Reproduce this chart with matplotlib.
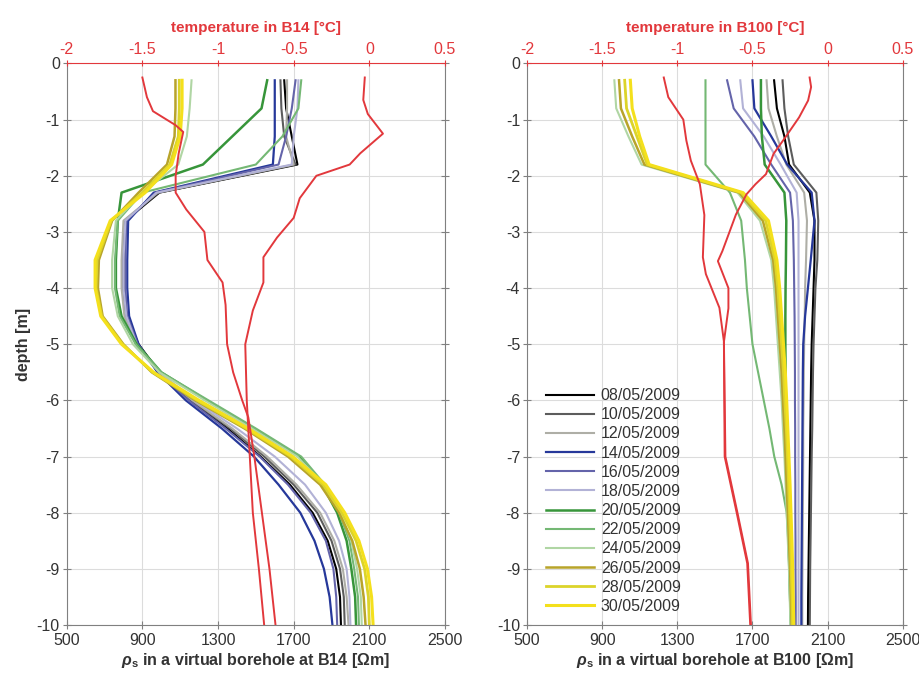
import numpy as np
import matplotlib
matplotlib.use("Agg")
import matplotlib.pyplot as plt

plt.rcParams['font.family'] = ['Liberation Sans', 'DejaVu Sans']
plt.rcParams['axes.unicode_minus'] = False
plt.rcParams['mathtext.fontset'] = 'custom'
plt.rcParams['mathtext.rm'] = 'Liberation Sans:bold'
plt.rcParams['mathtext.it'] = 'Liberation Sans:italic:bold'
plt.rcParams['mathtext.bf'] = 'Liberation Sans:bold'

# depth levels of the resistivity profiles [m]
depth = [-0.3, -0.8, -1.3, -1.8, -2.3, -2.8, -3.5, -4.0, -4.5, -5.0,
         -5.5, -6.0, -6.5, -7.0, -7.5, -8.0, -8.5, -9.0, -9.5, -10.0]

dates = ['08/05/2009', '10/05/2009', '12/05/2009', '14/05/2009',
         '16/05/2009', '18/05/2009', '20/05/2009', '22/05/2009',
         '24/05/2009', '26/05/2009', '28/05/2009', '30/05/2009']

# apparent resistivity at B14 [Ohm m], one row per date
rho_b14_0805 = [1650, 1660, 1690, 1720, 990, 810, 800, 800, 815, 880, 990, 1150, 1350, 1525, 1680, 1800, 1880, 1925, 1945, 1950]
rho_b14_1005 = [1630, 1635, 1650, 1710, 985, 805, 795, 795, 810, 870, 985, 1160, 1365, 1545, 1700, 1825, 1900, 1945, 1965, 1970]
rho_b14_1205 = [1665, 1665, 1660, 1700, 980, 800, 790, 790, 805, 865, 985, 1165, 1375, 1560, 1715, 1840, 1915, 1960, 1980, 1990]
rho_b14_1405 = [1600, 1600, 1600, 1590, 960, 825, 820, 820, 830, 880, 980, 1130, 1320, 1490, 1620, 1735, 1810, 1860, 1890, 1905]
rho_b14_1605 = [1710, 1690, 1660, 1620, 970, 815, 810, 810, 820, 875, 985, 1145, 1340, 1520, 1670, 1790, 1870, 1910, 1925, 1930]
rho_b14_1805 = [1725, 1720, 1700, 1690, 975, 810, 800, 800, 815, 870, 990, 1175, 1400, 1600, 1760, 1870, 1940, 1980, 1995, 2000]
rho_b14_2005 = [1560, 1530, 1375, 1220, 790, 770, 760, 760, 790, 870, 1000, 1240, 1490, 1730, 1850, 1930, 1980, 2005, 2025, 2030]
rho_b14_2205 = [1740, 1725, 1640, 1500, 900, 770, 755, 755, 780, 865, 1000, 1250, 1500, 1740, 1865, 1940, 1995, 2020, 2040, 2045]
rho_b14_2405 = [1160, 1150, 1135, 1090, 900, 760, 740, 740, 770, 850, 990, 1230, 1480, 1720, 1860, 1945, 2005, 2035, 2055, 2060]
rho_b14_2605 = [1075, 1075, 1070, 1030, 880, 740, 670, 665, 690, 800, 950, 1180, 1440, 1670, 1840, 1940, 2010, 2050, 2070, 2080]
rho_b14_2805 = [1095, 1095, 1090, 1045, 900, 735, 660, 655, 685, 795, 955, 1190, 1450, 1685, 1855, 1955, 2030, 2075, 2095, 2100]
rho_b14_3005 = [1110, 1110, 1100, 1055, 915, 730, 650, 650, 680, 790, 960, 1200, 1460, 1695, 1870, 1970, 2045, 2090, 2112, 2120]

# apparent resistivity at B100 [Ohm m]
rho_b100_0805 = [1815, 1830, 1870, 1895, 2005, 2030, 2030, 2025, 2020, 2015, 2012, 2010, 2008, 2006, 2004, 2002, 2000, 1998, 1996, 1995]
rho_b100_1005 = [1860, 1870, 1890, 1920, 2040, 2050, 2045, 2035, 2030, 2025, 2022, 2020, 2018, 2015, 2013, 2011, 2009, 2007, 2006, 2005]
rho_b100_1205 = [1775, 1785, 1830, 1880, 1975, 1990, 1985, 1980, 1978, 1975, 1973, 1972, 1970, 1970, 1969, 1968, 1967, 1966, 1965, 1965]
rho_b100_1405 = [1700, 1710, 1800, 1885, 2015, 2030, 2010, 1995, 1980, 1970, 1968, 1967, 1966, 1965, 1964, 1963, 1962, 1961, 1960, 1960]
rho_b100_1605 = [1565, 1600, 1710, 1800, 1900, 1915, 1920, 1922, 1924, 1925, 1926, 1926, 1927, 1927, 1928, 1928, 1929, 1929, 1930, 1930]
rho_b100_1805 = [1635, 1650, 1760, 1850, 1935, 1945, 1945, 1945, 1945, 1945, 1945, 1945, 1945, 1945, 1945, 1945, 1945, 1945, 1945, 1945]
rho_b100_2005 = [1745, 1745, 1750, 1765, 1870, 1880, 1878, 1876, 1875, 1875, 1876, 1878, 1880, 1882, 1885, 1888, 1892, 1896, 1900, 1905]
rho_b100_2205 = [1450, 1450, 1450, 1450, 1580, 1640, 1660, 1670, 1685, 1700, 1730, 1760, 1790, 1816, 1855, 1882, 1890, 1896, 1900, 1904]
rho_b100_2405 = [965, 975, 1040, 1110, 1620, 1740, 1800, 1815, 1825, 1835, 1845, 1855, 1862, 1870, 1876, 1882, 1888, 1894, 1898, 1902]
rho_b100_2605 = [990, 1000, 1060, 1125, 1630, 1755, 1810, 1825, 1835, 1845, 1855, 1862, 1870, 1876, 1882, 1888, 1894, 1900, 1904, 1908]
rho_b100_2805 = [1020, 1030, 1085, 1140, 1640, 1770, 1820, 1835, 1845, 1855, 1865, 1872, 1880, 1886, 1892, 1897, 1902, 1906, 1910, 1912]
rho_b100_3005 = [1050, 1060, 1100, 1150, 1650, 1785, 1830, 1845, 1855, 1865, 1875, 1882, 1888, 1894, 1900, 1905, 1910, 1914, 1917, 1920]

# temperature profiles [degC]
temp_b14_a_depth = [-0.25, -0.6, -0.85, -1.1, -1.22, -1.6, -2.0, -2.3, -2.6, -3.0, -3.5, -3.9, -4.3, -5.0, -5.5, -6.0, -6.3, -7.0, -8.0, -9.0, -10.0]
temp_b14_a = [-1.50, -1.47, -1.43, -1.28, -1.23, -1.26, -1.28, -1.28, -1.21, -1.09, -1.07, -0.97, -0.95, -0.94, -0.90, -0.84, -0.80, -0.76, -0.71, -0.66, -0.62]
temp_b14_b_depth = [-0.25, -0.65, -0.9, -1.25, -1.6, -1.8, -2.0, -2.4, -2.75, -3.1, -3.45, -3.9, -4.4, -5.0, -6.0, -7.0, -8.0, -9.0, -10.0]
temp_b14_b = [-0.03, -0.04, -0.01, 0.09, -0.06, -0.13, -0.35, -0.46, -0.50, -0.61, -0.70, -0.70, -0.77, -0.82, -0.81, -0.79, -0.77, -0.73, -0.695]

temp_b100_a_depth = [-0.25, -0.6, -1.0, -1.37, -1.73, -2.15, -2.7, -3.45, -3.75, -4.35, -4.95, -7.0, -8.0, -8.9, -10.0]
temp_b100_a = [-1.09, -1.06, -0.96, -0.94, -0.91, -0.85, -0.82, -0.83, -0.81, -0.72, -0.69, -0.68, -0.60, -0.53, -0.51]
temp_b100_b_depth = [-0.25, -0.42, -0.66, -0.96, -1.31, -1.61, -1.97, -2.15, -2.33, -2.69, -3.34, -3.52, -4.0, -4.36, -4.96, -7.0, -8.0, -8.9, -10.0]
temp_b100_b = [-0.12, -0.11, -0.13, -0.19, -0.28, -0.36, -0.41, -0.48, -0.54, -0.61, -0.70, -0.73, -0.66, -0.66, -0.69, -0.685, -0.605, -0.535, -0.515]

rho_ticks = [500, 900, 1300, 1700, 2100, 2500]
temp_ticks = [-2, -1.5, -1, -0.5, 0, 0.5]
temp_tick_labels = ['-2', '-1.5', '-1', '-0.5', '0', '0.5']
depth_ticks = [0, -1, -2, -3, -4, -5, -6, -7, -8, -9, -10]

colors = ['#000000', '#5c5c5c', '#aeaea6', '#26389a', '#6464aa', '#b2b2d6',
          '#37953a', '#74b874', '#b0d6a4', '#b8a42a', '#dcd42a', '#f4e01c']
widths = [1.5, 1.5, 1.5, 1.6, 1.5, 1.5, 1.8, 1.5, 1.5, 1.8, 2.0, 2.2]
RED = '#e2383c'
AXC = '#808080'
TXT = '#333333'

rho_b14 = [rho_b14_0805, rho_b14_1005, rho_b14_1205, rho_b14_1405, rho_b14_1605, rho_b14_1805,
           rho_b14_2005, rho_b14_2205, rho_b14_2405, rho_b14_2605, rho_b14_2805, rho_b14_3005]
rho_b100 = [rho_b100_0805, rho_b100_1005, rho_b100_1205, rho_b100_1405, rho_b100_1605, rho_b100_1805,
            rho_b100_2005, rho_b100_2205, rho_b100_2405, rho_b100_2605, rho_b100_2805, rho_b100_3005]


def draw_panel(ax, profiles, temps, name):
    """one borehole: resistivity (bottom axis) + temperature (top axis)"""
    lines = []
    for prof, c, w, lab in zip(profiles, colors, widths, dates):
        ln, = ax.plot(prof, depth, color=c, lw=w, label=lab, solid_joinstyle='round')
        lines.append(ln)
    ax.set_xlim(500, 2500)
    ax.set_ylim(-10, 0)
    ax.set_xticks(rho_ticks)
    ax.set_yticks(depth_ticks)
    ax.grid(True, color='#dcdcdc', lw=0.8)
    ax.set_axisbelow(True)
    ax.tick_params(axis='both', labelsize=11.5, colors=AXC, labelcolor=TXT,
                   direction='inout', length=6, width=0.8)
    ax.tick_params(axis='y', right=True, pad=2)
    ax.tick_params(axis='x', pad=3)
    for s in ['left', 'right', 'bottom']:
        ax.spines[s].set_color(AXC)
    ax.spines['top'].set_visible(False)
    ax.set_xlabel(r'$\rho_\mathrm{s}$ in a virtual borehole at ' + name + ' [Ωm]',
                  fontsize=11.5, fontweight='bold', color=TXT, labelpad=2)

    tw = ax.twiny()
    for d, t in temps:
        tw.plot(t, d, color=RED, lw=1.4)
    tw.set_xlim(-2, 0.5)
    tw.set_xticks(temp_ticks)
    tw.set_xticklabels(temp_tick_labels)
    tw.tick_params(axis='x', labelsize=11.5, colors=RED, direction='inout', length=5, pad=2)
    for s in ['left', 'right', 'bottom']:
        tw.spines[s].set_visible(False)
    tw.spines['top'].set_color(RED)
    tw.set_xlabel('temperature in ' + name + ' [°C]', color=RED, fontsize=11,
                  fontweight='bold', labelpad=7)
    return lines


fig = plt.figure(figsize=(9.19, 6.75), dpi=100)
ax1 = fig.add_axes([0.0726, 0.074, 0.4116, 0.832])
ax2 = fig.add_axes([0.5734, 0.074, 0.409, 0.832])

draw_panel(ax1, rho_b14, [(temp_b14_a_depth, temp_b14_a), (temp_b14_b_depth, temp_b14_b)], 'B14')
lines = draw_panel(ax2, rho_b100, [(temp_b100_a_depth, temp_b100_a), (temp_b100_b_depth, temp_b100_b)], 'B100')

ax1.set_ylabel('depth [m]', fontsize=11.5, fontweight='bold', color=TXT, labelpad=4)

leg = ax2.legend(handles=lines, loc='lower left', bbox_to_anchor=(0.02, 0.0),
                 frameon=False, fontsize=11.5, handlelength=3.0, handletextpad=0.45,
                 labelspacing=0.26, borderaxespad=0.3)
for t in leg.get_texts():
    t.set_color(TXT)

fig.savefig('out.png', dpi=100)
